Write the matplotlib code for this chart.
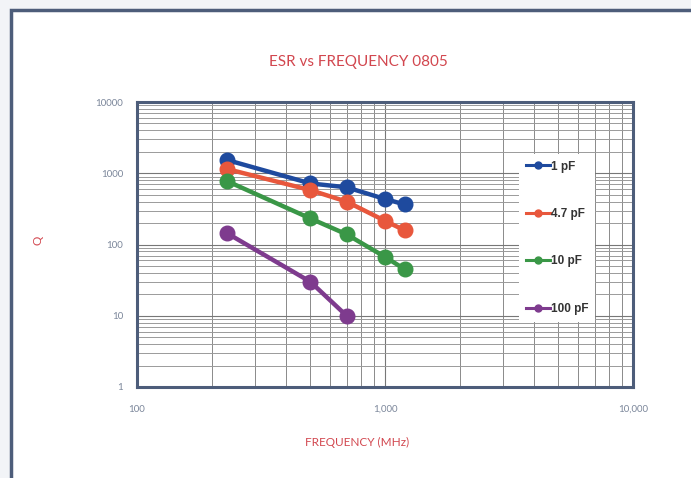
import matplotlib.pyplot as plt
from matplotlib.lines import Line2D
from matplotlib.patches import Rectangle
from matplotlib.ticker import FixedLocator, NullFormatter

# Q vs frequency for 0805 capacitors
freq_1pF = [230, 500, 700, 1000, 1200]
q_1pF = [1540, 720, 635, 435, 365]

freq_4p7pF = [230, 500, 700, 1000, 1200]
q_4p7pF = [1150, 580, 400, 215, 158]

freq_10pF = [230, 500, 700, 1000, 1200]
q_10pF = [780, 232, 139, 67, 45]

freq_100pF = [230, 500, 700]
q_100pF = [145, 30, 10]

labels = ["1 pF", "4.7 pF", "10 pF", "100 pF"]
colors = ["#1e4a9e", "#e8573c", "#3a9747", "#7e3b8e"]

x_ticks = [100, 1000, 10000]
x_ticklabels = ["100", "1,000", "10,000"]
y_ticks = [1, 10, 100, 1000, 10000]
y_ticklabels = ["1", "10", "100", "1000", "10000"]

plt.rcParams['font.family'] = ['Lato', 'DejaVu Sans']

fig = plt.figure(figsize=(6.91, 4.78), dpi=100)
fig.patch.set_facecolor("#f2f4f7")

# white panel with a dark frame, running off the right and bottom edges
panel = Rectangle((11 / 691, -0.1), 1.2, (478 - 10) / 478 + 0.1,
                  transform=fig.transFigure, facecolor="white",
                  edgecolor="#4d5d7a", linewidth=2.5, zorder=-5)
fig.patches.append(panel)

ax = fig.add_axes([137 / 691, 1 - 387 / 478, 496 / 691, 285 / 478])
ax.set_zorder(1)
ax.set_facecolor("white")
ax.set_xscale("log")
ax.set_yscale("log")
ax.set_xlim(100, 10000)
ax.set_ylim(1, 10000)

series = [(freq_1pF, q_1pF), (freq_4p7pF, q_4p7pF),
          (freq_10pF, q_10pF), (freq_100pF, q_100pF)]
for (f, q), c, lab in zip(series, colors, labels):
    ax.plot(f, q, color=c, linewidth=3.2, marker="o", markersize=10.5,
            label=lab, zorder=3)

# graph-paper style grid
ax.xaxis.set_minor_locator(FixedLocator([m * d for d in (100, 1000) for m in range(2, 10)]))
ax.xaxis.set_minor_formatter(NullFormatter())
ax.yaxis.set_minor_locator(FixedLocator([m * d for d in (1, 10, 100, 1000) for m in range(2, 10)]))
ax.yaxis.set_minor_formatter(NullFormatter())
ax.grid(which="major", axis="both", color="#777777", linewidth=0.8)
ax.grid(which="minor", axis="x", color="#8a8a8a", linewidth=0.7)
ax.grid(which="minor", axis="y", color="#9a9a9a", linewidth=0.7)
ax.set_axisbelow(True)

for s in ax.spines.values():
    s.set_color("#4d5d7a")
    s.set_linewidth(2.2)

ax.set_xticks(x_ticks)
ax.set_xticklabels(x_ticklabels)
ax.set_yticks(y_ticks)
ax.set_yticklabels(y_ticklabels)
ax.tick_params(which="both", length=0, labelsize=7, labelcolor="#7b869a")
ax.tick_params(axis="x", pad=13)
ax.tick_params(axis="y", pad=10)

handles = [Line2D([0], [0], color=c, linewidth=2.2, marker="o", markersize=5)
           for c in colors]
leg = ax.legend(handles, labels, loc="upper left", bbox_to_anchor=(0.758, 0.84),
                frameon=True, fancybox=False, framealpha=1, edgecolor="none",
                facecolor="white", labelspacing=3.0, handlelength=2.0,
                handletextpad=0.1, borderpad=0.6,
                prop={"family": ["Liberation Sans"], "weight": "bold", "size": 8.5})
for t in leg.get_texts():
    t.set_color("#333333")

red = "#d2474f"
fig.text(358 / 691, 1 - 62 / 478, "ESR vs FREQUENCY 0805", color=red,
         fontsize=11, ha="center", va="center")
fig.text(357 / 691, 1 - 442 / 478, "FREQUENCY (MHz)", color=red,
         fontsize=8.5, ha="center", va="center")
fig.text(38 / 691, 1 - 240 / 478, "Q", color=red, fontsize=8.5,
         rotation=90, ha="center", va="center")

fig.savefig("out.png", dpi=100, facecolor=fig.get_facecolor())
